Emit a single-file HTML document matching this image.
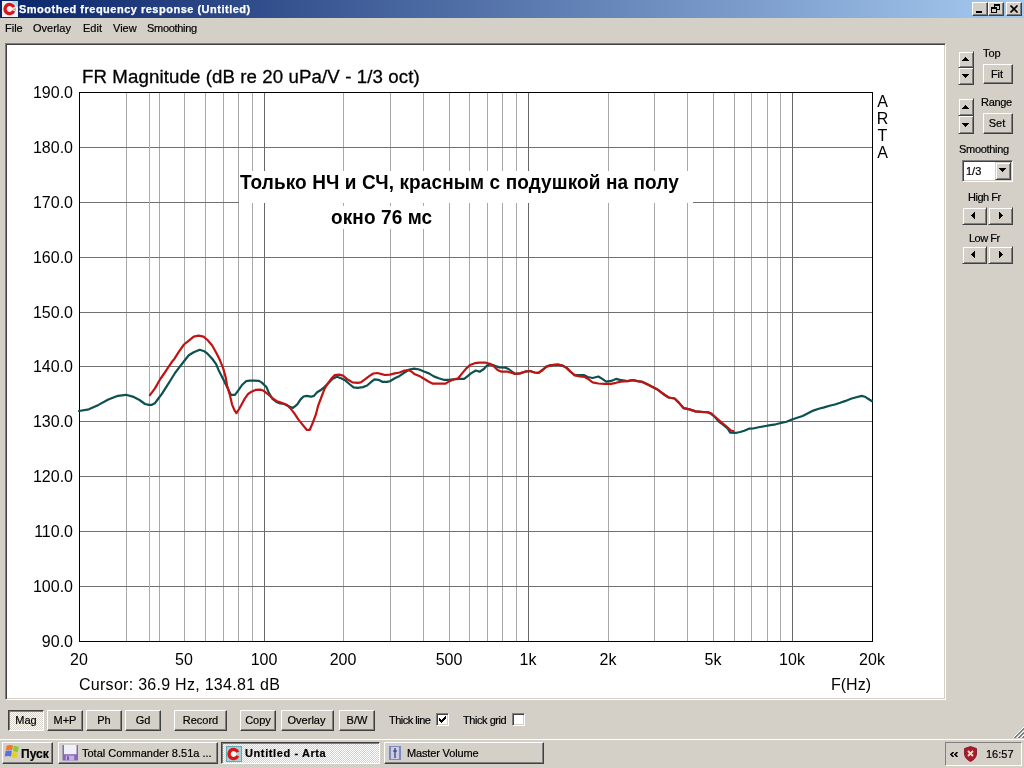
<!DOCTYPE html>
<html><head><meta charset="utf-8"><title>Smoothed frequency response (Untitled)</title>
<style>
*{margin:0;padding:0;box-sizing:border-box}
html,body{width:1024px;height:768px;overflow:hidden;background:#d4d0c8;font-family:"Liberation Sans",sans-serif;color:#000}
.abs{position:absolute}
.t{position:absolute;white-space:pre;line-height:1}
#title{position:absolute;left:0;top:0;width:1024px;height:18px;background:linear-gradient(to right,#0a246a,#a6caf0)}
#title .tx{position:absolute;left:19px;top:4px;font-size:11px;font-weight:bold;color:#fff;letter-spacing:0.5px;-webkit-text-stroke:0.25px #fff;line-height:1;white-space:pre}
.cb{position:absolute;top:2px;width:16px;height:14px;background:#d4d0c8;border:1px solid;border-color:#fff #404040 #404040 #fff;box-shadow:inset -1px -1px #808080}
.menu{position:absolute;top:23px;font-size:11px;line-height:1;white-space:pre;-webkit-text-stroke:0.2px #000}
#panel{position:absolute;left:5px;top:43px;width:941px;height:657px;background:#fff;border:1px solid;border-color:#808080 #fff #fff #808080;box-shadow:inset 1px 1px #404040,inset -1px -1px #d4d0c8}
.yl{position:absolute;left:23px;width:50px;text-align:right;font-size:16px;line-height:16px;white-space:pre}
.xl{position:absolute;top:652px;width:60px;text-align:center;font-size:16px;line-height:16px;white-space:pre}
.btn{position:absolute;background:#d4d0c8;border:1px solid;border-color:#fff #404040 #404040 #fff;box-shadow:inset -1px -1px #808080;font-size:11px;line-height:1;text-align:center;white-space:pre}
.btn span{position:absolute;left:0;right:0;-webkit-text-stroke:0.2px #000}
.pressed{border-color:#404040 #fff #fff #404040;box-shadow:inset 1px 1px #808080;background:repeating-conic-gradient(#fff 0 25%,#d4d0c8 0 50%) 0 0/2px 2px}
.sbtn{position:absolute;background:#d4d0c8;border:1px solid;border-color:#d4d0c8 #404040 #404040 #d4d0c8;box-shadow:inset 1px 1px #fff,inset -1px -1px #808080}
.lbl{position:absolute;font-size:11px;line-height:1;white-space:pre;-webkit-text-stroke:0.2px #000}
.chk{position:absolute;width:13px;height:13px;background:#fff;border:1px solid;border-color:#808080 #fff #fff #808080;box-shadow:inset 1px 1px #404040,inset -1px -1px #d4d0c8}
.tb{position:absolute;top:742px;height:22px;background:#d4d0c8;border:1px solid;border-color:#fff #404040 #404040 #fff;box-shadow:inset -1px -1px #808080;font-size:11px;line-height:1;white-space:pre;-webkit-text-stroke:0.2px #000}
.tb.act{border-color:#404040 #fff #fff #404040;box-shadow:inset 1px 1px #808080;background:repeating-conic-gradient(#fff 0 25%,#d4d0c8 0 50%) 0 0/2px 2px}
</style></head><body>
<div id="wrap" style="position:absolute;left:0;top:0;width:1024px;height:768px;will-change:transform">

<div id="title">
  <svg class="abs" style="left:2px;top:1px" width="16" height="16" viewBox="0 0 16 16">
    <rect x="0" y="0" width="16" height="16" fill="#eef2f8"/>
    <path d="M9 0H16V7Z" fill="#a8e0e8"/>
    <circle cx="7.5" cy="8" r="3" fill="#f4f0f8"/>
    <path d="M11.8 9.9A4.6 4.6 0 1 1 11.8 6.1" stroke="#d81818" stroke-width="3.4" fill="none"/>
    <path d="M10 8L14 7L14 10Z" fill="#e0a080"/>
  </svg>
  <div class="tx">Smoothed frequency response (Untitled)</div>
  <div class="cb" style="left:972px"><svg class="abs" style="left:3px;top:8px" width="8" height="2"><rect width="6" height="2" x="0" fill="#000"/></svg></div>
  <div class="cb" style="left:988px"><svg class="abs" style="left:2px;top:1px" width="9" height="9" viewBox="0 0 9 9" shape-rendering="crispEdges"><path d="M3 0H9V2H3ZM8 2H9V6H8ZM6 5H9V6H6ZM3 2H4V3H3ZM0 3H6V5H0ZM0 5H1V9H0ZM5 5H6V9H5ZM0 8H6V9H0Z" fill="#000"/></svg></div>
  <div class="cb" style="left:1006px"><svg class="abs" style="left:3px;top:2px" width="9" height="8" viewBox="0 0 9 8"><path d="M0.5 0.5L7.5 7.5M7.5 0.5L0.5 7.5" stroke="#000" stroke-width="1.6" fill="none"/></svg></div>
</div>

<div class="menu" style="left:5px">File</div>
<div class="menu" style="left:33px">Overlay</div>
<div class="menu" style="left:83px">Edit</div>
<div class="menu" style="left:113px">View</div>
<div class="menu" style="left:147px;letter-spacing:-0.3px">Smoothing</div>

<div id="panel"></div>
<svg class="abs" style="left:0;top:0" width="1024" height="768" viewBox="0 0 1024 768">
<path d="M126.5 92V641 M159.5 92V641 M184.5 92V641 M205.5 92V641 M223.5 92V641 M238.5 92V641 M252.5 92V641 M343.5 92V641 M390.5 92V641 M423.5 92V641 M449.5 92V641 M469.5 92V641 M487.5 92V641 M502.5 92V641 M516.5 92V641 M608.5 92V641 M654.5 92V641 M687.5 92V641 M713.5 92V641 M734.5 92V641 M751.5 92V641 M767.5 92V641 M780.5 92V641" stroke="#a8a8a8" stroke-width="1" fill="none" shape-rendering="crispEdges"/>
<path d="M264.5 92V641 M528.5 92V641 M792.5 92V641" stroke="#686868" stroke-width="1" fill="none" shape-rendering="crispEdges"/>
<path d="M79 147.5H872 M79 202.5H872 M79 257.5H872 M79 312.5H872 M79 366.5H872 M79 421.5H872 M79 476.5H872 M79 531.5H872 M79 586.5H872" stroke="#707070" stroke-width="1" fill="none" shape-rendering="crispEdges"/>
<path d="M149.5 92V641" stroke="#bcb848" stroke-width="1" fill="none" shape-rendering="crispEdges"/>
<rect x="239" y="171" width="454" height="32" fill="#fff"/>
<rect x="331" y="206" width="114" height="23" fill="#fff"/>
<rect x="79.5" y="92.5" width="793" height="549" stroke="#000" stroke-width="1" fill="none" shape-rendering="crispEdges"/>
<polyline points="79,411 88.8,409.3 98.5,404.9 108.3,399.5 118,395.8 125.9,394.8 132.7,396.6 139.5,400 145,404 148.9,404.9 151.5,404.9 154.8,403.3 158,399 161.9,393.9 166.5,386.7 171,379.5 175,373 178.9,367.8 184,361.3 188.8,355.3 193.7,352.3 199.7,349.8 204.4,351.3 207.5,353.7 212.2,358.75 216.1,364.2 218.4,369.7 221.6,375.9 224.7,382.2 227.8,388.4 230.9,394.8 235,394.9 238.5,390.2 242,385 246.1,381.2 249.6,380.6 254.3,380.6 259,380.9 261.9,382.6 264.8,385.5 266.6,387.3 268.6,392.2 272.5,399 276.4,402 280.3,403.5 284.2,404 288.1,405.9 293,407.9 297.3,404.3 300.4,399.6 303.5,396.5 306.7,395.9 310.8,396.7 314,395.9 317.1,392.3 321.3,389.7 324.4,387.1 328.5,382.9 332.7,378.75 336.9,376.7 341,378.2 345.2,380.3 349.4,384 353.5,387.3 357.7,387.9 362.9,387.1 367.1,385.5 371.25,381.9 374.4,379.3 378.5,379.8 382.7,381.9 386.9,381.9 389.9,381.25 394.8,378.3 399.6,375.9 404.5,372.5 409.4,369.5 414.3,368.6 419.2,369.5 424,371.5 428.9,373.4 433.8,376.4 438.7,378.3 443.6,379.8 448.5,379.8 453.4,379.3 459.2,378.8 464.1,378.8 468,375.9 470.9,373.4 475.8,370.5 479.7,371.7 483.9,369 486.8,365.6 490.7,364.2 495.6,366.1 499.5,367.4 505.4,367.6 509.3,369.5 513.2,372.5 515.2,373.9 520,373.4 524.9,371.7 529.8,371 534.7,372.5 538.6,372.9 542.5,370 546.4,366.6 550.3,365.4 554.2,364.8 558.1,364.6 563,365.8 566.9,368.1 570.8,372 574.7,375 583.8,375 587.7,377 592.6,378 598.4,376.5 602.3,378.9 606.25,381.6 611.1,380.9 616,378.9 619.9,379.9 627.7,381.2 632.6,380.2 637.5,381.2 642.4,381.9 647.3,384.3 652.1,386.7 657,389.2 660.9,392.1 664.8,395 668.75,397.5 674.6,398.5 678.8,402.6 683.7,408.2 689.5,409.4 695.4,411.4 701.25,411.9 707.1,412.3 711,413.8 714.9,417 718.8,421.6 722.7,424.3 727.6,428.5 730.2,432.6 736.5,432.8 740.1,432 744.3,430.7 749.5,428.6 753,428.5 759.8,427 765.7,426 770.4,425.1 775.7,424.3 781.1,423 786.5,421.7 791.9,419.5 797.2,417.8 802.6,416 808,413.3 813.3,410.6 818.7,408.8 824.1,407.4 829.5,405.8 834.8,404.5 840.2,402.8 845.6,400.9 850.9,398.8 856.3,397.2 861.7,395.9 864.9,396.7 868.1,398.8 872,401.2" stroke="#0c5050" stroke-width="2.2" fill="none" stroke-linejoin="round" stroke-linecap="round"/>
<polyline points="149.9,395.2 154.8,388.6 160,379.5 164.5,373 168.4,367.2 172.3,361.3 174.2,359.2 179.1,351.4 184,344.5 188.8,340.6 193.7,336.7 198.6,335.7 203.5,336.7 207.5,340 212.2,345.5 216.1,352.5 220,360.3 223.1,368.1 225.5,376.5 227.3,386.7 229.7,394.3 232,404.3 234.4,410.1 236.4,413.1 239.1,409 242,403.7 244.9,398.4 248.4,393.7 252,391.4 255.5,389.9 260.1,389.6 263.7,390.8 268.6,394.7 272.5,398.1 276.4,401 282.3,403 287.1,404.9 290,407.9 294.2,413.1 298.3,419.4 302.5,424.6 306.7,429.8 309.8,429.8 312.9,422.5 316,414.2 318.1,405.8 321.25,397.5 324.4,389.2 327.5,384 331.7,378.2 334.8,375.1 339,374.6 343.1,375.6 347.3,379.3 352.5,382.4 357.7,382.9 360.8,382.4 365,379.3 369.2,376.1 373.3,373.5 377.5,373 381.7,374.1 384.8,375 389.9,374.6 394.8,373.4 399.6,372.5 404.5,370.5 408.4,370 411.4,371.5 414.3,373.9 419.2,375.9 424,378.8 428.9,381.7 432.9,383.7 438.7,383.7 445.5,383.7 449.5,381.1 454.3,379.3 458.2,378.3 462.1,373.4 466.1,368.6 470,365.1 474.8,363.2 479.7,362.7 485.9,362.7 489.8,363.7 493.7,366.1 497.6,370 501.5,371.7 507.3,371.7 511.25,372.7 515.2,373.9 520,373.4 524.9,371.7 529.8,371 534.7,372.5 538.6,372.9 542.5,370 546.4,366.6 550.3,365.4 554.2,364.8 558.1,364.6 563,365.8 566.9,368.1 570.8,372 574.7,375.4 579.6,376.4 584.8,377 588.7,379.4 592.6,382.3 598.4,383.5 604.3,383.8 611.1,383.8 616,382.8 620.9,381.6 627.7,381.2 632.6,380.2 637.5,381.2 642.4,381.9 647.3,384.3 652.1,386.7 657,389.2 660.9,392.1 664.8,395 668.75,397.5 674.6,398.5 678.8,402.6 683.7,408.2 689.5,409.4 695.4,411.4 701.25,411.9 707.8,412 711.5,413.5 715.6,417.2 720.8,421.9 726,426 731.25,430.7 733.3,431" stroke="#c01414" stroke-width="2.2" fill="none" stroke-linejoin="round" stroke-linecap="round"/>
</svg>
<div class="t" style="left:82px;top:68px;font-size:18.67px;letter-spacing:0.1px;-webkit-text-stroke:0.3px #000">FR Magnitude (dB re 20 uPa/V - 1/3 oct)</div>
<div class="yl" style="top:85px">190.0</div>
<div class="yl" style="top:140px">180.0</div>
<div class="yl" style="top:195px">170.0</div>
<div class="yl" style="top:250px">160.0</div>
<div class="yl" style="top:305px">150.0</div>
<div class="yl" style="top:359px">140.0</div>
<div class="yl" style="top:414px">130.0</div>
<div class="yl" style="top:469px">120.0</div>
<div class="yl" style="top:524px">110.0</div>
<div class="yl" style="top:579px">100.0</div>
<div class="yl" style="top:634px">90.0</div>
<div class="xl" style="left:49px">20</div>
<div class="xl" style="left:154px">50</div>
<div class="xl" style="left:234px">100</div>
<div class="xl" style="left:313px">200</div>
<div class="xl" style="left:419px">500</div>
<div class="xl" style="left:498px">1k</div>
<div class="xl" style="left:578px">2k</div>
<div class="xl" style="left:683px">5k</div>
<div class="xl" style="left:762px">10k</div>
<div class="xl" style="left:842px">20k</div>
<div class="t" style="left:79px;top:677px;font-size:16px;letter-spacing:0.28px">Cursor: 36.9 Hz, 134.81 dB</div>
<div class="t" style="left:831px;top:677px;font-size:16px">F(Hz)</div>
<div class="t" style="left:876.5px;top:93px;font-size:16px;line-height:17px;width:12px;text-align:center">A<br>R<br>T<br>A</div>
<div class="t" style="left:240px;top:173px;font-size:19px;font-weight:bold;letter-spacing:0.1px;transform:scaleY(1.08);transform-origin:0 16px">Только НЧ и СЧ, красным с подушкой на полу</div>
<div class="t" style="left:331px;top:208px;font-size:19px;font-weight:bold;letter-spacing:0.1px;transform:scaleY(1.08);transform-origin:0 16px">окно 76 мс</div>

<!-- right controls -->
<div class="sbtn" style="left:958px;top:67px;width:16px;height:18px"><svg class="abs" style="left:3px;top:6px" width="7" height="4" viewBox="0 0 7 4" shape-rendering="crispEdges"><path d="M0 0h7v1h-7zM1 1h5v1h-5zM2 2h3v1h-3zM3 3h1v1h-1z" fill="#000"/></svg></div>
<div class="sbtn" style="left:958px;top:51px;width:16px;height:17px"><svg class="abs" style="left:3px;top:5px" width="7" height="4" viewBox="0 0 7 4" shape-rendering="crispEdges"><path d="M3 0h1v1h-1zM2 1h3v1h-3zM1 2h5v1h-5zM0 3h7v1h-7z" fill="#000"/></svg></div>
<div class="lbl" style="left:983px;top:48px">Top</div>
<div class="btn" style="left:983px;top:64px;width:30px;height:20px"><span style="top:4px;left:-1px;right:1px">Fit</span></div>
<div class="sbtn" style="left:958px;top:115px;width:16px;height:19px"><svg class="abs" style="left:3px;top:7px" width="7" height="4" viewBox="0 0 7 4" shape-rendering="crispEdges"><path d="M0 0h7v1h-7zM1 1h5v1h-5zM2 2h3v1h-3zM3 3h1v1h-1z" fill="#000"/></svg></div>
<div class="sbtn" style="left:958px;top:98px;width:16px;height:18px"><svg class="abs" style="left:3px;top:6px" width="7" height="4" viewBox="0 0 7 4" shape-rendering="crispEdges"><path d="M3 0h1v1h-1zM2 1h3v1h-3zM1 2h5v1h-5zM0 3h7v1h-7z" fill="#000"/></svg></div>
<div class="lbl" style="left:981px;top:97px;letter-spacing:-0.3px">Range</div>
<div class="btn" style="left:983px;top:113px;width:30px;height:21px"><span style="top:4px;left:-1px;right:1px">Set</span></div>
<div class="lbl" style="left:959px;top:144px;letter-spacing:-0.3px">Smoothing</div>
<div class="abs" style="left:962px;top:160px;width:51px;height:22px;background:#fff;border:1px solid;border-color:#808080 #fff #fff #808080;box-shadow:inset 1px 1px #404040,inset -1px -1px #d4d0c8"></div>
<div class="lbl" style="left:966px;top:166px">1/3</div>
<div class="sbtn" style="left:995px;top:162px;width:16px;height:18px"><svg class="abs" style="left:3px;top:5px" width="7" height="4" viewBox="0 0 7 4" shape-rendering="crispEdges"><path d="M0 0h7v1h-7zM1 1h5v1h-5zM2 2h3v1h-3zM3 3h1v1h-1z" fill="#000"/></svg></div>
<div class="lbl" style="left:968px;top:192px;letter-spacing:-0.5px">High Fr</div>
<div class="sbtn" style="left:962px;top:207px;width:25px;height:18px"><svg class="abs" style="left:8px;top:4px" width="4" height="7" viewBox="0 0 4 7" shape-rendering="crispEdges"><path d="M3 0h1v7h-1zM2 1h1v5h-1zM1 2h1v3h-1zM0 3h1v1h-1z" fill="#000"/></svg></div>
<div class="sbtn" style="left:988px;top:207px;width:25px;height:18px"><svg class="abs" style="left:10px;top:4px" width="4" height="7" viewBox="0 0 4 7" shape-rendering="crispEdges"><path d="M0 0h1v7h-1zM1 1h1v5h-1zM2 2h1v3h-1zM3 3h1v1h-1z" fill="#000"/></svg></div>
<div class="lbl" style="left:969px;top:233px;letter-spacing:-0.5px">Low Fr</div>
<div class="sbtn" style="left:962px;top:246px;width:25px;height:18px"><svg class="abs" style="left:8px;top:4px" width="4" height="7" viewBox="0 0 4 7" shape-rendering="crispEdges"><path d="M3 0h1v7h-1zM2 1h1v5h-1zM1 2h1v3h-1zM0 3h1v1h-1z" fill="#000"/></svg></div>
<div class="sbtn" style="left:988px;top:246px;width:25px;height:18px"><svg class="abs" style="left:10px;top:4px" width="4" height="7" viewBox="0 0 4 7" shape-rendering="crispEdges"><path d="M0 0h1v7h-1zM1 1h1v5h-1zM2 2h1v3h-1zM3 3h1v1h-1z" fill="#000"/></svg></div>

<!-- bottom toolbar -->
<div class="btn pressed" style="left:8px;top:710px;width:36px;height:21px"><span style="top:4px">Mag</span></div>
<div class="btn" style="left:47px;top:710px;width:36px;height:21px"><span style="top:4px">M+P</span></div>
<div class="btn" style="left:86px;top:710px;width:36px;height:21px"><span style="top:4px">Ph</span></div>
<div class="btn" style="left:125px;top:710px;width:36px;height:21px"><span style="top:4px">Gd</span></div>
<div class="btn" style="left:174px;top:710px;width:53px;height:21px"><span style="top:4px">Record</span></div>
<div class="btn" style="left:240px;top:710px;width:36px;height:21px"><span style="top:4px">Copy</span></div>
<div class="btn" style="left:281px;top:710px;width:53px;height:21px"><span style="top:4px;left:-2px;right:0">Overlay</span></div>
<div class="btn" style="left:339px;top:710px;width:36px;height:21px"><span style="top:4px">B/W</span></div>
<div class="lbl" style="left:389px;top:715px;letter-spacing:-0.5px">Thick line</div>
<div class="chk" style="left:436px;top:713px"><svg class="abs" style="left:2px;top:2px" width="7" height="7" viewBox="0 0 7 7" shape-rendering="crispEdges"><path d="M6 0h1v1h-1zM5 1h1v1h-1zM6 1h1v1h-1zM0 2h1v1h-1zM4 2h1v1h-1zM5 2h1v1h-1zM6 2h1v1h-1zM0 3h1v1h-1zM1 3h1v1h-1zM3 3h1v1h-1zM4 3h1v1h-1zM5 3h1v1h-1zM0 4h1v1h-1zM1 4h1v1h-1zM2 4h1v1h-1zM3 4h1v1h-1zM4 4h1v1h-1zM1 5h1v1h-1zM2 5h1v1h-1zM3 5h1v1h-1zM2 6h1v1h-1z" fill="#000"/></svg></div>
<div class="lbl" style="left:463px;top:715px;letter-spacing:-0.45px">Thick grid</div>
<div class="chk" style="left:512px;top:713px"></div>

<!-- grip -->
<svg class="abs" style="left:1008px;top:722px" width="16" height="16" viewBox="0 0 16 16" shape-rendering="crispEdges"><path d="M5 15h1v1h-1zM6 14h1v1h-1zM7 13h1v1h-1zM8 12h1v1h-1zM9 11h1v1h-1zM9 15h1v1h-1zM10 10h1v1h-1zM10 14h1v1h-1zM11 9h1v1h-1zM11 13h1v1h-1zM12 8h1v1h-1zM12 12h1v1h-1zM13 7h1v1h-1zM13 11h1v1h-1zM13 15h1v1h-1zM14 6h1v1h-1zM14 10h1v1h-1zM14 14h1v1h-1zM15 5h1v1h-1zM15 9h1v1h-1zM15 13h1v1h-1z" fill="#fff"/><path d="M6 15h1v1h-1zM7 14h1v1h-1zM7 15h1v1h-1zM8 13h1v1h-1zM8 14h1v1h-1zM9 12h1v1h-1zM9 13h1v1h-1zM10 11h1v1h-1zM10 12h1v1h-1zM10 15h1v1h-1zM11 10h1v1h-1zM11 11h1v1h-1zM11 14h1v1h-1zM11 15h1v1h-1zM12 9h1v1h-1zM12 10h1v1h-1zM12 13h1v1h-1zM12 14h1v1h-1zM13 8h1v1h-1zM13 9h1v1h-1zM13 12h1v1h-1zM13 13h1v1h-1zM14 7h1v1h-1zM14 8h1v1h-1zM14 11h1v1h-1zM14 12h1v1h-1zM14 15h1v1h-1zM15 6h1v1h-1zM15 7h1v1h-1zM15 10h1v1h-1zM15 11h1v1h-1zM15 14h1v1h-1zM15 15h1v1h-1z" fill="#808080"/></svg>

<!-- taskbar -->
<div class="abs" style="left:0;top:738px;width:1024px;height:30px;background:#d4d0c8;border-top:1px solid #d4d0c8;box-shadow:inset 0 1px #fff"></div>
<div class="tb" style="left:2px;width:51px">
  <svg class="abs" style="left:1px;top:1px" width="16" height="16" viewBox="0 0 16 16">
    <path d="M2.6 1.8Q5.5 0.6 9 1.4L8.2 6Q5 5.2 1.8 6.4Z" fill="#f07828"/>
    <path d="M9.8 1.6Q12.3 2.8 14.8 2.2L14 7.8Q11.5 8.4 8.9 6.8Z" fill="#88cc30"/>
    <path d="M1.6 7Q4.5 5.9 7.8 6.8L7.1 12.4Q4 11.4 0.8 12.6Z" fill="#5870e0"/>
    <path d="M8.6 7.6Q11.2 9 13.8 8.6L13.1 13.8Q10.5 14.4 7.8 13.2Z" fill="#e8d020"/>
  </svg>
  <span class="abs" style="left:18px;top:5px;font-size:12px;font-weight:bold;letter-spacing:0px">Пуск</span>
</div>
<div class="tb" style="left:58px;width:160px">
  <svg class="abs" style="left:3px;top:2px" width="17" height="16" viewBox="0 0 17 16">
    <rect x="0.5" y="0" width="15.5" height="15.5" fill="#8a66b8"/>
    <rect x="2" y="0" width="12.5" height="9.2" fill="#f0f0f8"/>
    <rect x="3.8" y="10.6" width="8.4" height="4.9" fill="#c4b0e0"/>
    <rect x="5.2" y="11.2" width="1.6" height="4" fill="#6a4c98"/>
  </svg>
  <span class="abs" style="left:23px;top:5px">Total Commander 8.51a ...</span>
</div>
<div class="tb act" style="left:221px;width:159px">
  <svg class="abs" style="left:4px;top:3px" width="16" height="16" viewBox="0 0 16 16">
    <rect x="0" y="0" width="16" height="16" fill="#68a8b0"/>
    <rect x="1" y="1" width="14" height="14" fill="#a8d0d8"/>
    <circle cx="7.5" cy="8" r="3" fill="#f8f8f8"/>
    <path d="M11.8 9.9A4.6 4.6 0 1 1 11.8 6.1" stroke="#d81818" stroke-width="3.4" fill="none"/>
  </svg>
  <span class="abs" style="left:23px;top:5px;font-weight:bold;letter-spacing:0.6px">Untitled - Arta</span>
</div>
<div class="tb" style="left:384px;width:160px">
  <svg class="abs" style="left:3px;top:2px" width="16" height="16" viewBox="0 0 16 16">
    <rect x="1" y="1" width="12" height="14" fill="#8088c0"/>
    <rect x="3" y="2" width="8" height="12" fill="#c8cce8"/>
    <path d="M7 3V13M5 6H9" stroke="#303860" stroke-width="1.2"/>
  </svg>
  <span class="abs" style="left:22px;top:5px;letter-spacing:-0.15px">Master Volume</span>
</div>
<!-- tray -->
<div class="abs" style="left:945px;top:742px;width:77px;height:24px;border:1px solid;border-color:#808080 #fff #fff #808080"></div>
<svg class="abs" style="left:950px;top:752px" width="9" height="5" viewBox="0 0 9 5"><path d="M3.5 0L1 2.5L3.5 5M7.5 0L5 2.5L7.5 5" stroke="#000" stroke-width="1.6" fill="none"/></svg>
<svg class="abs" style="left:964px;top:746px" width="13" height="16" viewBox="0 0 13 16">
  <path d="M6.5 0.5L12.5 2.5V8Q12 13 6.5 15.5Q1 13 0.5 8V2.5Z" fill="#b01830" stroke="#701020" stroke-width="0.8"/>
  <path d="M4 5L9 10M9 5L4 10" stroke="#f8e0c0" stroke-width="1.8"/>
</svg>
<div class="lbl" style="left:986px;top:749px">16:57</div>

</div>
</body></html>
